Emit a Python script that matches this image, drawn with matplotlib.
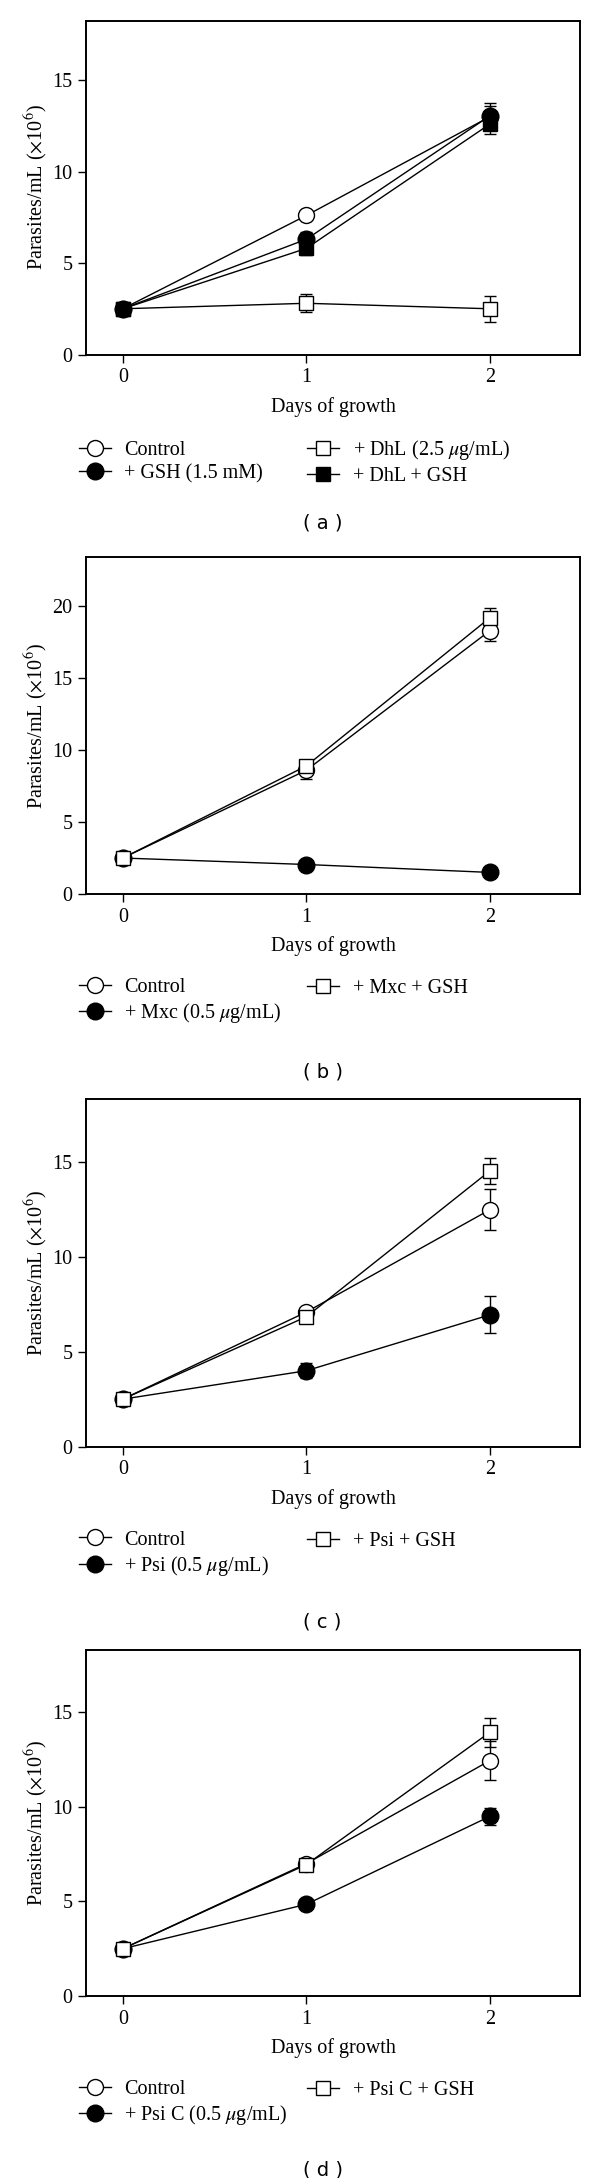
import matplotlib
matplotlib.use('Agg')
import matplotlib.pyplot as plt

plt.rcParams['font.family'] = ['Liberation Serif', 'DejaVu Serif']
plt.rcParams['mathtext.fontset'] = 'stix'

W, H = 600, 2178
days = [0, 1, 2]
xlabel = 'Days of growth'
ylabel = r'Parasites/mL ($\times$10$^{6}$)'

# ---- panel (a) ----
a_names = ['Control', '+ GSH (1.5 mM)', r'+ DhL (2.5 $\mu$g/mL)', '+ DhL + GSH']
a_control = [2.5, 7.6, 13.0]
a_control_err = [0.1, 0.15, 0.6]
a_gsh = [2.5, 6.3, 13.05]
a_gsh_err = [0.1, 0.4, 0.7]
a_dhl = [2.5, 2.8, 2.5]
a_dhl_err = [0.1, 0.5, 0.7]
a_dhl_gsh = [2.5, 5.8, 12.6]
a_dhl_gsh_err = [0.1, 0.35, 0.55]

# ---- panel (b) ----
b_names = ['Control', r'+ Mxc (0.5 $\mu$g/mL)', '+ Mxc + GSH']
b_control = [2.5, 8.6, 18.3]
b_control_err = [0.1, 0.6, 0.7]
b_mxc = [2.5, 2.05, 1.5]
b_mxc_err = [0.1, 0.2, 0.2]
b_mxc_gsh = [2.5, 8.9, 19.2]
b_mxc_gsh_err = [0.1, 0.3, 0.65]

# ---- panel (c) ----
c_names = ['Control', r'+ Psi (0.5 $\mu$g/mL)', '+ Psi + GSH']
c_control = [2.5, 7.1, 12.5]
c_control_err = [0.1, 0.2, 1.07]
c_psi = [2.5, 4.0, 6.95]
c_psi_err = [0.1, 0.4, 0.97]
c_psi_gsh = [2.5, 6.85, 14.55]
c_psi_gsh_err = [0.1, 0.15, 0.7]

# ---- panel (d) ----
d_names = ['Control', r'+ Psi C (0.5 $\mu$g/mL)', '+ Psi C + GSH']
d_control = [2.5, 7.0, 12.45]
d_control_err = [0.1, 0.2, 1.05]
d_psic = [2.5, 4.85, 9.5]
d_psic_err = [0.1, 0.2, 0.43]
d_psic_gsh = [2.5, 6.95, 13.95]
d_psic_gsh_err = [0.1, 0.2, 0.77]

STY = {
    'oc': dict(marker='o', mfc='white', ms=11.5),
    'fc': dict(marker='o', mfc='black', ms=12),
    'os': dict(marker='s', mfc='white', ms=9.6),
    'fs': dict(marker='s', mfc='black', ms=9.6),
}

fig = plt.figure(figsize=(W / 100, H / 100), dpi=100)

AX_L, AX_R = 86.1, 579.8
FS = 14.5


def draw_panel(top, bottom, ylim, yticks, series, letter, letter_y):
    hpx = bottom - top
    ax = fig.add_axes([AX_L / W, 1 - bottom / H, (AX_R - AX_L) / W, hpx / H])
    handles = []
    for vals, errs, name, st in series:
        ax.errorbar(days, vals, yerr=errs, fmt='none', ecolor='black',
                    elinewidth=1.0, capsize=4.3, capthick=1.0, zorder=2)
        h, = ax.plot(days, vals, color='black', lw=1.0, mec='black', mew=1.0,
                     zorder=3, label=name, **STY[st])
        handles.append(h)
    ax.set_xlim(-0.2, 2.49)
    ax.set_ylim(*ylim)
    ax.set_xticks(days)
    ax.set_yticks(yticks)
    ax.tick_params(direction='out', length=5.8, width=1.0, labelsize=FS, pad=4,
                   top=False, right=False, colors='black')
    for sp in ax.spines.values():
        sp.set_linewidth(1.4)
    ax.set_xlabel(xlabel, fontsize=FS)
    ax.xaxis.set_label_coords(0.5, -52.5 / hpx)
    ax.xaxis.label.set_va('center')
    ax.set_ylabel(ylabel, fontsize=FS)
    ax.yaxis.set_label_coords((36 - AX_L) / (AX_R - AX_L), 0.5)
    ax.yaxis.label.set_va('center')

    common = dict(loc='center left', frameon=False, fontsize=FS, handlelength=1.61,
                  handletextpad=0.67, labelspacing=0.2, borderpad=0, borderaxespad=0)
    fig.legend(handles[:2], [h.get_label() for h in handles[:2]],
               bbox_to_anchor=(78.5 / W, 1 - (bottom + 107.5) / H), **common)
    rest = handles[2:]
    yc = bottom + (107.5 if len(rest) == 2 else 94.5)
    fig.legend(rest, [h.get_label() for h in rest],
               bbox_to_anchor=(307 / W, 1 - yc / H), **common)

    fig.text(322.6 / W, 1 - letter_y / H, '( %s )' % letter, family='DejaVu Sans',
             fontsize=14, ha='center', va='center')
    return ax


draw_panel(20.5, 354.5, (0, 18.26), [0, 5, 10, 15],
           [(a_control, a_control_err, a_names[0], 'oc'),
            (a_gsh, a_gsh_err, a_names[1], 'fc'),
            (a_dhl, a_dhl_err, a_names[2], 'os'),
            (a_dhl_gsh, a_dhl_gsh_err, a_names[3], 'fs')], 'a', 523)

draw_panel(557.3, 894, (0, 23.4), [0, 5, 10, 15, 20],
           [(b_control, b_control_err, b_names[0], 'oc'),
            (b_mxc, b_mxc_err, b_names[1], 'fc'),
            (b_mxc_gsh, b_mxc_gsh_err, b_names[2], 'os')], 'b', 1072)

draw_panel(1099.3, 1446.5, (0, 18.33), [0, 5, 10, 15],
           [(c_control, c_control_err, c_names[0], 'oc'),
            (c_psi, c_psi_err, c_names[1], 'fc'),
            (c_psi_gsh, c_psi_gsh_err, c_names[2], 'os')], 'c', 1622)

draw_panel(1650, 1996, (0, 18.3), [0, 5, 10, 15],
           [(d_control, d_control_err, d_names[0], 'oc'),
            (d_psic, d_psic_err, d_names[1], 'fc'),
            (d_psic_gsh, d_psic_gsh_err, d_names[2], 'os')], 'd', 2170)

fig.savefig('out.png', dpi=100, facecolor='white')
